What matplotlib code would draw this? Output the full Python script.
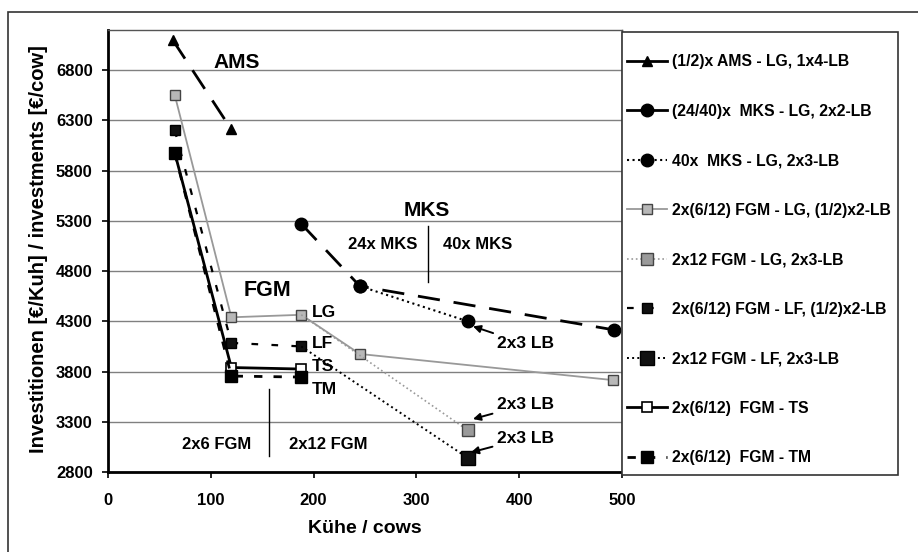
import matplotlib
matplotlib.use("Agg")
import matplotlib.pyplot as plt
from matplotlib.lines import Line2D
from matplotlib.patches import Rectangle

plt.rcParams['font.family'] = ['Liberation Sans', 'DejaVu Sans']
plt.rcParams['font.weight'] = 'bold'

# values (cows, EUR per cow)
ams_x = [63, 120]
ams_y = [7100, 6210]
mks_2440_x = [188, 245, 492]
mks_2440_y = [5270, 4650, 4215]
mks_40_x = [245, 350]
mks_40_y = [4650, 4300]
lg_x = [65, 120, 188, 245, 491]
lg_y = [6550, 4340, 4365, 3975, 3715]
lg12_x = [188, 350]
lg12_y = [4365, 3215]
lf_x = [65, 120, 188]
lf_y = [6200, 4085, 4050]
lf12_x = [188, 350]
lf12_y = [4050, 2940]
ts_x = [65, 120, 188]
ts_y = [5975, 3840, 3825]
tm_x = [65, 120, 188]
tm_y = [5975, 3755, 3745]

labels = ['(1/2)x AMS - LG, 1x4-LB',
          '(24/40)x  MKS - LG, 2x2-LB',
          '40x  MKS - LG, 2x3-LB',
          '2x(6/12) FGM - LG, (1/2)x2-LB',
          '2x12 FGM - LG, 2x3-LB',
          '2x(6/12) FGM - LF, (1/2)x2-LB',
          '2x12 FGM - LF, 2x3-LB',
          '2x(6/12)  FGM - TS',
          '2x(6/12)  FGM - TM']

x_ticks = [0, 100, 200, 300, 400, 500]
y_ticks = [2800, 3300, 3800, 4300, 4800, 5300, 5800, 6300, 6800]

series = [
    (ams_x, ams_y, dict(color='black', lw=2, dashes=(8, 5), marker='^', ms=6.5)),
    (mks_2440_x, mks_2440_y, dict(color='black', lw=2, dashes=(8, 5), marker='o', ms=9)),
    (mks_40_x, mks_40_y, dict(color='black', lw=1.5, ls=':', marker='o', ms=9)),
    (lg_x, lg_y, dict(color='#999999', lw=1.3, marker='s', ms=6.5,
                      mfc='#b8b8b8', mec='#444444', mew=1)),
    (lg12_x, lg12_y, dict(color='#999999', lw=1.2, ls=':', marker='s', ms=8,
                          mfc='#9a9a9a', mec='#444444', mew=1)),
    (lf_x, lf_y, dict(color='black', lw=1.6, dashes=(3, 6), marker='s', ms=7,
                      mfc='#111111', mec='black')),
    (lf12_x, lf12_y, dict(color='black', lw=1.4, ls=':', marker='s', ms=10,
                          mfc='#111111', mec='black')),
    (ts_x, ts_y, dict(color='black', lw=2, marker='s', ms=7.5,
                      mfc='white', mec='black', mew=1.2)),
    (tm_x, tm_y, dict(color='black', lw=2, dashes=(3, 4), marker='s', ms=9,
                      mfc='black', mec='black')),
]
# the legend keys of the two first series are drawn solid
legend_solid = [True, True, False, False, False, False, False, False, False]

fig = plt.figure(figsize=(9.18, 5.52), dpi=100)
W, H = 918, 552
ax = fig.add_axes([108 / W, 1 - 472 / H, 514 / W, 442 / H])

# outer frame of the scanned figure
fig.patches.append(Rectangle((8 / W, -0.1), 1.2, 1 - 12 / H + 0.1, transform=fig.transFigure,
                             fill=False, edgecolor='#333333', lw=1.2))

handles = []
for i, (xs, ys, st) in enumerate(series):
    kw = dict(st)
    if xs in (lg12_x, lf12_x):
        kw['markevery'] = [1]
    if xs is mks_40_x:
        kw['zorder'] = 1.9
    ax.plot(xs, ys, **kw)
    hk = dict(st)
    if legend_solid[i]:
        hk.pop('dashes', None)
        hk['ls'] = '-'
    handles.append(Line2D([], [], **hk))

ax.set_xlim(0, 500)
ax.set_ylim(2800, 7200)
ax.set_xticks(x_ticks)
ax.set_yticks(y_ticks)
ax.yaxis.grid(True, color='#808080', lw=1)
ax.set_axisbelow(True)
ax.tick_params(axis='both', labelsize=12, direction='out', length=4, width=1.2)
ax.tick_params(axis='x', pad=11)
ax.tick_params(axis='y', pad=7)
for lab in ax.get_xticklabels() + ax.get_yticklabels():
    lab.set_fontweight('bold')
for side in ['left', 'bottom']:
    ax.spines[side].set_linewidth(2)
for side in ['top', 'right']:
    ax.spines[side].set_linewidth(1)
    ax.spines[side].set_color('#555555')

ax.set_xlabel('Kühe / cows', fontsize=14, fontweight='bold')
ax.xaxis.set_label_coords(0.5, -0.109)
ax.set_ylabel('Investitionen [€/Kuh] / investments [€/cow]', fontsize=14.5, fontweight='bold')
ax.yaxis.set_label_coords(-0.117, 0.505)

# group labels
ax.text(125, 6880, 'AMS', fontsize=15, fontweight='bold', ha='center', va='center')
ax.text(310, 5400, 'MKS', fontsize=15, fontweight='bold', ha='center', va='center')
ax.text(267, 5064, '24x MKS', fontsize=12, fontweight='bold', ha='center', va='center')
ax.text(360, 5064, '40x MKS', fontsize=12, fontweight='bold', ha='center', va='center')
ax.plot([311, 311], [4690, 5250], color='black', lw=1)
ax.text(155, 4604, 'FGM', fontsize=15.5, fontweight='bold', ha='center', va='center')
for txt, yy in [('LG', 4383), ('LF', 4076), ('TS', 3850), ('TM', 3625)]:
    ax.text(198, yy, txt, fontsize=12.5, fontweight='bold', ha='left', va='center')
ax.text(106, 3072, '2x6 FGM', fontsize=12, fontweight='bold', ha='center', va='center')
ax.text(214, 3072, '2x12 FGM', fontsize=12, fontweight='bold', ha='center', va='center')
ax.plot([157, 157], [2955, 3630], color='black', lw=1)

for (tx, ty), (px, py) in [((378, 4076), (355, 4250)),
                           ((378, 3470), (355, 3327)),
                           ((378, 3138), (353, 2995))]:
    ax.annotate('2x3 LB', xy=(px, py), xytext=(tx, ty), fontsize=12.5, fontweight='bold',
                ha='left', va='center',
                arrowprops=dict(arrowstyle='-|>', color='black', lw=1.4,
                                mutation_scale=11, shrinkA=1, shrinkB=0))

# legend box and entries
fig.patches.append(Rectangle((622 / W, 1 - 475 / H), 276 / W, 443 / H, transform=fig.transFigure,
                             fill=True, facecolor='white', edgecolor='#333333', lw=1.2, zorder=3))
leg = fig.legend(handles, labels, loc='upper left', bbox_to_anchor=(627 / W, 1 - 54 / H),
                 borderaxespad=0, borderpad=0, frameon=False,
                 prop={'size': 11.3, 'weight': 'bold'}, handlelength=2.55, handletextpad=0.3,
                 labelspacing=2.2)
leg.set_zorder(4)

fig.savefig('out.png', dpi=100)
